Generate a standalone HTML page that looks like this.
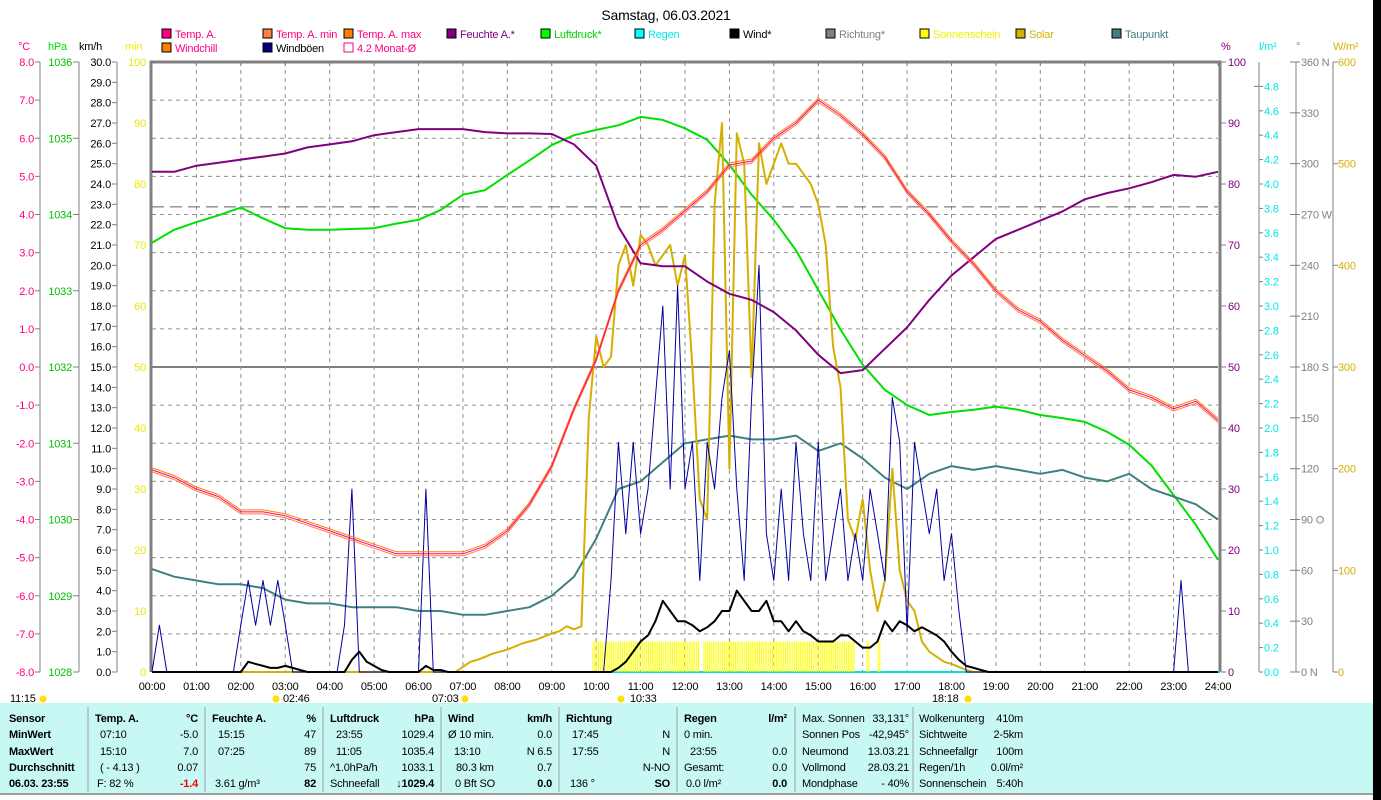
<!DOCTYPE html>
<html><head><meta charset="utf-8">
<style>
html,body{margin:0;padding:0;background:#fff;}
#wrap{position:relative;width:1381px;height:800px;overflow:hidden;font-family:"Liberation Sans Narrow","Liberation Sans",sans-serif;}
svg text{font-family:"Liberation Sans Narrow","Liberation Sans",sans-serif;letter-spacing:-0.2px;}
</style></head>
<body>
<div id="wrap">
<svg id="chart" width="1381" height="800" viewBox="0 0 1381 800">
  <rect x="0" y="703" width="1373" height="90" fill="#c8f8f4"/>
  <line x1="0" y1="794" x2="1373" y2="794" stroke="#a0a0a0" stroke-width="2"/>
  <rect x="1373" y="0" width="8" height="800" fill="#000"/>
  <text x="666" y="20" font-size="14" text-anchor="middle" fill="#000">Samstag, 06.03.2021</text>
  <g id="grid"></g>
  <g id="axes"></g>
  <g id="series"></g>
  <g id="legend"></g>
  <g id="table"></g>
</svg>
</div>
<script>
// ---------- data ----------
var hoursHalf = [0,0.5,1,1.5,2,2.5,3,3.5,4,4.5,5,5.5,6,6.5,7,7.5,8,8.5,9,9.5,10,10.5,11,11.5,12,12.5,13,13.5,14,14.5,15,15.5,16,16.5,17,17.5,18,18.5,19,19.5,20,20.5,21,21.5,22,22.5,23,23.5,24];
var tempA = [-2.7,-2.9,-3.2,-3.4,-3.8,-3.8,-3.9,-4.1,-4.3,-4.5,-4.7,-4.9,-4.9,-4.9,-4.9,-4.7,-4.3,-3.6,-2.6,-1.1,0.2,2.0,3.2,3.6,4.1,4.6,5.3,5.4,6.0,6.4,7.0,6.6,6.1,5.5,4.6,4.0,3.3,2.7,2.0,1.5,1.2,0.7,0.3,-0.1,-0.6,-0.8,-1.1,-0.9,-1.4];
var humidity = [82,82,83,83.5,84,84.5,85,86,86.5,87,88,88.5,89,89,89,88.5,88.3,88.3,88.2,86.5,83,73,67,66.5,66.5,64,62,61,59,56,52,49,49.5,53,56.5,61,65,68,71,72.5,74,75.5,77.5,78.5,79.3,80.3,81.5,81.2,82];
var pressure = [1033.63,1033.80,1033.90,1033.99,1034.09,1033.95,1033.82,1033.80,1033.80,1033.81,1033.82,1033.88,1033.93,1034.06,1034.26,1034.32,1034.52,1034.71,1034.91,1035.04,1035.11,1035.17,1035.28,1035.24,1035.13,1034.98,1034.65,1034.26,1033.93,1033.53,1033.01,1032.49,1032.03,1031.70,1031.50,1031.37,1031.41,1031.44,1031.48,1031.44,1031.37,1031.33,1031.28,1031.15,1030.98,1030.71,1030.32,1029.93,1029.47];
var dewpoint = [-5.3,-5.5,-5.6,-5.7,-5.7,-5.8,-6.1,-6.2,-6.2,-6.3,-6.3,-6.3,-6.4,-6.4,-6.5,-6.5,-6.4,-6.3,-6.0,-5.5,-4.5,-3.2,-3.0,-2.5,-2.0,-1.9,-1.8,-1.9,-1.9,-1.8,-2.2,-2.0,-2.4,-2.9,-3.2,-2.8,-2.6,-2.7,-2.6,-2.7,-2.8,-2.7,-2.9,-3.0,-2.8,-3.2,-3.4,-3.6,-4.0];
// 10-minute series (6 per hour, 00:00 .. 24:00)
var gusts = [
0,2.3,0,0,0,0, 0,0,0,0,0,0, 2.3,4.5,2.3,4.5,2.3,4.5, 2.3,0,0,0,0,0,
0,0,2.3,9,0,0, 0,0,0,0,0,0, 0,9,0,0,0,0, 0,0,0,0,0,0,
0,0,0,0,0,0, 0,0,0,0,0,0, 0,0,4.5,11.3,6.8,11.3, 6.8,9,13.5,18,9,19,
9,11.3,4.5,11.3,9,13.5, 15.8,9,4.5,13.5,20,6.8, 4.5,9,4.5,11.3,6.8,4.5, 11.3,4.5,6.8,9,4.5,6.8,
4.5,9,6.8,4.5,13.5,11.3, 2,11.3,9,6.8,9,4.5, 6.8,3,0,0,0,0, 0,0,0,0,0,0,
0,0,0,0,0,0, 0,0,0,0,0,0, 0,0,0,0,0,0, 0,4.5,0,0,0,0, 0];
var windMean = [
0,0,0,0,0,0, 0,0,0,0,0,0, 0,0.5,0.4,0.3,0.2,0.2, 0.3,0.2,0.1,0,0,0,
0,0,0,0.6,1.0,0.5, 0.3,0.1,0,0,0,0, 0,0.3,0.1,0.1,0,0, 0,0,0,0,0,0,
0,0,0,0,0,0, 0,0,0,0,0,0, 0,0,0,0.2,0.5,1.0, 1.5,1.8,2.5,3.5,3.0,2.5,
2.5,2.3,2.0,2.2,2.5,3.0, 3.0,4.0,3.5,3.0,3.0,3.5, 2.5,2.5,2.0,2.5,2.0,1.8, 1.5,1.5,1.5,1.8,1.8,1.5,
1.2,1.2,1.5,2.5,2.0,2.5, 2.3,2.0,2.2,2.0,1.8,1.5, 1.0,0.6,0.3,0.2,0.1,0, 0,0,0,0,0,0,
0,0,0,0,0,0, 0,0,0,0,0,0, 0,0,0,0,0,0, 0,0,0,0,0,0, 0];
var solar = [
0,0,0,0,0,0, 0,0,0,0,0,0, 0,0,0,0,0,0, 0,0,0,0,0,0,
0,0,0,0,0,0, 0,0,0,0,0,0, 0,0,0,0,0,0, 5,10,12,15,18,20,
22,25,28,30,32,35, 38,40,45,42,45,250, 330,300,310,400,420,380, 430,420,400,410,420,380,
410,300,170,150,460,540, 200,530,500,290,520,480, 500,520,500,500,490,480, 460,420,320,280,150,130,
170,100,60,90,200,100, 70,60,30,20,15,10, 8,5,2,0,0,0, 0,0,0,0,0,0,
0,0,0,0,0,0, 0,0,0,0,0,0, 0,0,0,0,0,0, 0,0,0,0,0,0, 0];
// sunshine minutes per 5-min slot, hours 9..16 (12 per hour)
var sunStartHour = 9;
var sunshine = [
0,0,0,0,0,0,0,0,0,0,0,5,
5,5,5,5,5,5,5,5,5,5,5,5,
5,5,5,5,5,5,5,5,5,5,5,5,
5,5,5,5,0,5,5,5,5,5,5,5,
5,5,5,5,5,5,5,5,5,5,5,5,
5,5,5,5,5,5,5,5,5,5,5,5,
5,5,5,5,5,5,5,5,5,5,0,0,
0,5,0,0,5,0,0,0,0,0,0,0];
var monthAvg = 4.2;
var timeLabels = ["00:00","01:00","02:00","03:00","04:00","05:00","06:00","07:00","08:00","09:00","10:00","11:00","12:00","13:00","14:00","15:00","16:00","17:00","18:00","19:00","20:00","21:00","22:00","23:00","24:00"];
var tempTicks = [8,7,6,5,4,3,2,1,0,-1,-2,-3,-4,-5,-6,-7,-8];
var hpaTicks = [1036,1035,1034,1033,1032,1031,1030,1029,1028];
var humTicks = [100,90,80,70,60,50,40,30,20,10,0];
var rainTicks = [4.8,4.6,4.4,4.2,4.0,3.8,3.6,3.4,3.2,3.0,2.8,2.6,2.4,2.2,2.0,1.8,1.6,1.4,1.2,1.0,0.8,0.6,0.4,0.2,0];
var dirTicks = [360,330,300,270,240,210,180,150,120,90,60,30,0];
var dirNames = {360:" N",270:" W",180:" S",90:" O",0:" N"};
var wmTicks = [600,500,400,300,200,100,0];
var minTicks = [100,90,80,70,60,50,40,30,20,10,0];

// ---------- scales ----------
var X0=152, X1=1218, YT=62, YB=672, H=YB-YT;
function xH(h){return X0+h*(X1-X0)/24;}
function yT(t){return YB-(t+8)/16*H;}
function yP(p){return YB-(p-1028)/8*H;}
function yHum(v){return YB-v/100*H;}
function yKm(v){return YB-v/30*H;}
function yMin(v){return YB-v/100*H;}
function ySol(v){return YB-v/600*H;}
function yRain(v){return YB-v/5*H;}
function yDir(v){return YB-v/360*H;}

var NS="http://www.w3.org/2000/svg";
var FS=11;
function mk(tag,attrs,parent){var e=document.createElementNS(NS,tag);for(var k in attrs){e.setAttribute(k,attrs[k]);}parent.appendChild(e);return e;}
function txt(s,x,y,attrs,parent){var e=mk("text",attrs,parent);e.setAttribute("x",x);e.setAttribute("y",y);e.textContent=s;return e;}

var grid=document.getElementById("grid"), axes=document.getElementById("axes"), series=document.getElementById("series"), legend=document.getElementById("legend"), table=document.getElementById("table");

// grid
for(var t=-7;t<=7;t++){
  var gl=mk("line",{x1:X0,x2:X1,y1:yT(t),y2:yT(t),stroke:(t===0?"#808080":"#909090"),"stroke-width":(t===0?2:1),"stroke-dasharray":(t===0?"none":"4,4")},grid);
  
  
}
for(var h=1;h<24;h++){
  var vl=mk("line",{x1:xH(h),x2:xH(h),y1:YT,y2:YB,stroke:"#909090","stroke-width":1,"stroke-dasharray":"4,4"},grid);
  
  
}
var avgLine=mk("line",{x1:X0,x2:X1,y1:yT(monthAvg),y2:yT(monthAvg),stroke:"#606060","stroke-width":1,"stroke-dasharray":"12,6"},grid);


var fr=mk("path",{d:"M"+(X0-1)+","+YB+" V"+YT+" H"+(X1+2)+" V"+YB,fill:"none",stroke:"#808080","stroke-width":3},grid);


var zl=mk("line",{x1:X0,x2:X1+2,y1:YB,y2:YB,stroke:"#00e0e0","stroke-width":2},grid);



for(var i=0;i<timeLabels.length;i++){
  var tl=txt(timeLabels[i],xH(i),690,{"font-size":FS,"text-anchor":"middle",fill:"#000"},axes);
  
  
  var tk=mk("line",{x1:xH(i),x2:xH(i),y1:YT,y2:YT+4,stroke:"#808080"},axes);
  
  
}

function vAxis(x,name){var a=mk("line",{x1:x,x2:x,y1:YT,y2:YB,stroke:"#808080","stroke-width":1},axes);}
vAxis(40,'celsius-axis');vAxis(79,'hpa-axis');vAxis(117,'kmh-axis');
vAxis(1221,'humidity-axis');vAxis(1259,'rain-axis');vAxis(1296,'direction-axis');vAxis(1333,'solar-axis');
tempTicks.forEach(function(v){
  var e=txt(v.toFixed(1),34,yT(v)+4,{"font-size":FS,"text-anchor":"end",fill:"#ff0080"},axes);
  
  
  mk("line",{x1:35,x2:40,y1:yT(v),y2:yT(v),stroke:"#808080"},axes);
});
hpaTicks.forEach(function(v){
  var e=txt(String(v),72,yP(v)+4,{"font-size":FS,"text-anchor":"end",fill:"#00c000"},axes);
  
  
  mk("line",{x1:73,x2:79,y1:yP(v),y2:yP(v),stroke:"#808080"},axes);
});
for(var k=0;k<=30;k++){
  var e=txt(k.toFixed(1),111,yKm(k)+4,{"font-size":FS,"text-anchor":"end",fill:"#000"},axes);
  
  
  mk("line",{x1:112,x2:117,y1:yKm(k),y2:yKm(k),stroke:"#808080"},axes);
}
minTicks.forEach(function(v){
  var e=txt(String(v),146,yMin(v)+4,{"font-size":FS,"text-anchor":"end",fill:"#e8e800"},axes);
  
  
});
humTicks.forEach(function(v){
  var e=txt(String(v),1228,yHum(v)+4,{"font-size":FS,fill:"#800080"},axes);
  
  
  mk("line",{x1:1221,x2:1226,y1:yHum(v),y2:yHum(v),stroke:"#808080"},axes);
});
rainTicks.forEach(function(v){
  var e=txt(v.toFixed(1),1264,yRain(v)+4,{"font-size":FS,fill:"#00e8e8"},axes);
  
  
  mk("line",{x1:(v===4.8?1254:1259),x2:1263,y1:yRain(v),y2:yRain(v),stroke:"#808080"},axes);
});
dirTicks.forEach(function(v){
  var e=txt(String(v)+(dirNames[v]||""),1301,yDir(v)+4,{"font-size":FS,fill:"#808080"},axes);
  
  
  mk("line",{x1:1290,x2:1300,y1:yDir(v),y2:yDir(v),stroke:"#808080"},axes);
});
wmTicks.forEach(function(v){
  var e=txt(String(v),1338,ySol(v)+4,{"font-size":FS,fill:"#d4b000"},axes);
  
  
  mk("line",{x1:1333,x2:1338,y1:ySol(v),y2:ySol(v),stroke:"#808080"},axes);
});
[["°C",18,"#ff0080"],["hPa",48,"#00e000"],["km/h",79,"#000"],["min",125,"#f0f000"],["%",1221,"#800080"],["l/m²",1259,"#00e8e8"],["°",1296,"#808080"],["W/m²",1333,"#d4b000"]].forEach(function(u){
  var e=txt(u[0],u[1],50,{"font-size":FS,fill:u[2]},axes);
  
  
});

// ---------- series ----------
function line(xs,ys,fx,fy,color,w,name,dy){
  var pts=[];for(var i=0;i<ys.length;i++){pts.push(fx(xs[i]).toFixed(1)+","+(fy(ys[i])+(dy||0)).toFixed(1));}
  var p=mk("polyline",{points:pts.join(" "),fill:"none",stroke:color,"stroke-width":w,"stroke-linejoin":"round"},series);
  
  
  return p;
}
var tenMin=[];for(var i=0;i<solar.length;i++){tenMin.push(i/6);}
for(var s=0;s<sunshine.length;s++){
  if(sunshine[s]>0){
    var hx=xH(sunStartHour+s/12);
    for(var j=0;j<2;j++){
      var b=mk("line",{x1:hx+j*1.85+0.5,x2:hx+j*1.85+0.5,y1:YB,y2:yMin(sunshine[s]),stroke:"#ffff00","stroke-width":1},series);
      
      
    }
  }
}
line(hoursHalf,pressure,xH,yP,"#00e000",2,"pressure-line");
line(hoursHalf,dewpoint,xH,yT,"#408080",2,"dewpoint-line");
line(tenMin,solar,xH,ySol,"#d4b000",2,"solar-line");
line(tenMin,gusts,xH,yKm,"#0000a0",1,"wind-gust-line");
line(tenMin,windMean,xH,yKm,"#000000",2,"wind-mean-line");
line(hoursHalf,humidity,xH,yHum,"#800080",2,"humidity-line");
line(hoursHalf,tempA,xH,yT,"#ff8000",1,"temp-max-line",-2);
line(hoursHalf,tempA,xH,yT,"#ff8040",1,"windchill-line",2);
line(hoursHalf,tempA,xH,yT,"#ff0080",1,"temperature-line");

[["11:15",10],["02:46",283],["07:03",432],["10:33",630],["18:18",932]].forEach(function(ev){
  var e=txt(ev[0],ev[1],702,{"font-size":FS,fill:"#000"},axes);
  
  
});
[[43,699],[465,699],[968,699],[276,699],[621,699]].forEach(function(p){
  var c=mk("circle",{cx:p[0],cy:p[1],r:3.5,fill:"#ffe000"},axes);
  
  
});

// ---------- legend ----------
var legItems=[["Temp. A.",162,38,"#ff0080","#ff0080"],["Temp. A. min",263,38,"#ff8040","#ff0080"],["Temp. A. max",344,38,"#ff8000","#ff0080"],["Feuchte A.*",447,38,"#800080","#800080"],["Luftdruck*",541,38,"#00ff00","#00d000"],["Regen",635,38,"#00ffff","#00e8e8"],["Wind*",730,38,"#000000","#000"],["Richtung*",826,38,"#808080","#808080"],["Sonnenschein",920,38,"#ffff00","#f0f000"],["Solar",1016,38,"#d4b000","#d4b000"],["Taupunkt",1112,38,"#408080","#408080"],["Windchill",162,52,"#ff8000","#ff0080"],["Windböen",263,52,"#000080","#000"],["4.2 Monat-Ø",344,52,"none","#ff0080"]];
legItems.forEach(function(it){
  var g=mk("g",{},legend);
  
  
  mk("rect",{x:it[1],y:it[2]-9,width:9,height:9,fill:(it[3]==="none"?"#fff":it[3]),stroke:(it[3]==="none"?"#ff0080":"#000"),"stroke-width":1},g);
  txt(it[0],it[1]+13,it[2],{"font-size":FS,fill:it[4]},g);
});

// ---------- summary table ----------
var seps=[88,205,323,441,559,677,795,913];
seps.forEach(function(x){
  var l=mk("line",{x1:x,x2:x,y1:707,y2:792,stroke:"#a0a0a0","stroke-width":1},table);
  
  
});
var rowsY=[722,738,755,771,787];
var cells=[
 ["Sensor",9,0,"start",1],["MinWert",9,1,"start",1],["MaxWert",9,2,"start",1],["Durchschnitt",9,3,"start",1],["06.03. 23:55",9,4,"start",1],
 ["Temp. A.",95,0,"start",1],["°C",198,0,"end",1],["07:10",100,1,"start"],["-5.0",198,1,"end"],["15:10",100,2,"start"],["7.0",198,2,"end"],["( - 4.13 )",100,3,"start"],["0.07",198,3,"end"],["F: 82 %",97,4,"start"],["-1.4",198,4,"end",1,"#ff0000"],
 ["Feuchte A.",212,0,"start",1],["%",316,0,"end",1],["15:15",218,1,"start"],["47",316,1,"end"],["07:25",218,2,"start"],["89",316,2,"end"],["75",316,3,"end"],["3.61 g/m³",215,4,"start"],["82",316,4,"end",1],
 ["Luftdruck",330,0,"start",1],["hPa",434,0,"end",1],["23:55",336,1,"start"],["1029.4",434,1,"end"],["11:05",336,2,"start"],["1035.4",434,2,"end"],["^1.0hPa/h",330,3,"start"],["1033.1",434,3,"end"],["Schneefall",330,4,"start"],["↓1029.4",434,4,"end",1],
 ["Wind",448,0,"start",1],["km/h",552,0,"end",1],["Ø 10 min.",448,1,"start"],["0.0",552,1,"end"],["13:10",454,2,"start"],["N 6.5",552,2,"end"],["80.3 km",456,3,"start"],["0.7",552,3,"end"],["0 Bft SO",455,4,"start"],["0.0",552,4,"end",1],
 ["Richtung",566,0,"start",1],["17:45",572,1,"start"],["N",670,1,"end"],["17:55",572,2,"start"],["N",670,2,"end"],["N-NO",670,3,"end"],["136 °",570,4,"start"],["SO",670,4,"end",1],
 ["Regen",684,0,"start",1],["l/m²",787,0,"end",1],["0 min.",684,1,"start"],["23:55",690,2,"start"],["0.0",787,2,"end"],["Gesamt:",684,3,"start"],["0.0",787,3,"end"],["0.0 l/m²",686,4,"start"],["0.0",787,4,"end",1],
 ["Max. Sonnen",802,0,"start"],["33,131°",909,0,"end"],["Sonnen Pos",802,1,"start"],["-42,945°",909,1,"end"],["Neumond",802,2,"start"],["13.03.21",909,2,"end"],["Vollmond",802,3,"start"],["28.03.21",909,3,"end"],["Mondphase",802,4,"start"],["- 40%",909,4,"end"],
 ["Wolkenunterg",919,0,"start"],["410m",1023,0,"end"],["Sichtweite",919,1,"start"],["2-5km",1023,1,"end"],["Schneefallgr",919,2,"start"],["100m",1023,2,"end"],["Regen/1h",919,3,"start"],["0.0l/m²",1023,3,"end"],["Sonnenschein",919,4,"start"],["5:40h",1023,4,"end"]
];
cells.forEach(function(c){
  var e=txt(c[0],c[1],rowsY[c[2]],{"font-size":FS,"text-anchor":c[3],"font-weight":(c[4]?"bold":"normal"),fill:(c[5]||"#000")},table);
  
  
});
</script>
</body></html>
